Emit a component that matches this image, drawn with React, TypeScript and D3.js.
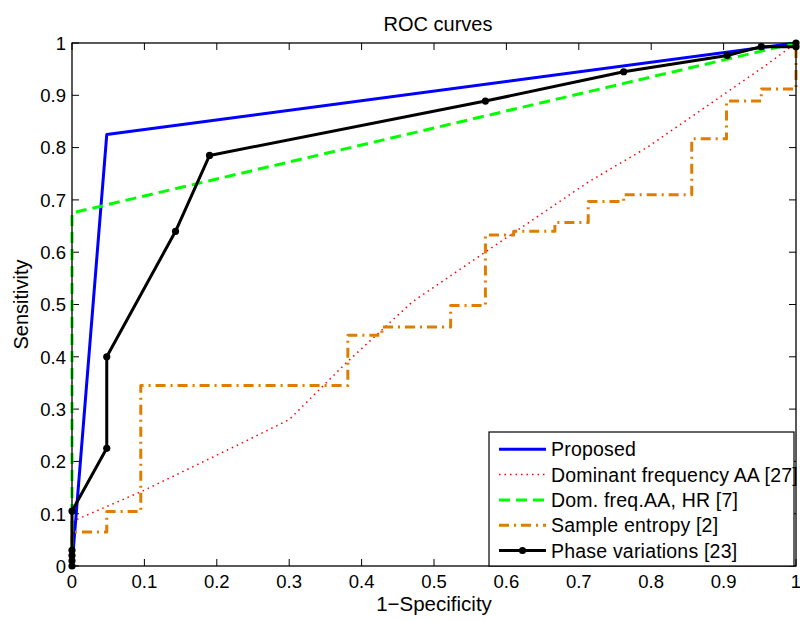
import React from 'react';
import * as d3 from 'd3';

// ROC curve data
const proposedX = [0, 0.048, 1];
const proposedY = [0, 0.825, 1];

const domFreqX = [0, 0.1, 0.23, 0.3, 0.38, 0.47, 0.56, 0.61, 0.714, 0.794, 0.96, 1];
const domFreqY = [0.085, 0.145, 0.232, 0.28, 0.39, 0.505, 0.59, 0.637, 0.735, 0.8, 0.959, 1];

const domFreqHrX = [0, 0, 1];
const domFreqHrY = [0, 0.675, 1];

const entropyX = [0, 0, 0.048, 0.095, 0.381, 0.428, 0.523, 0.571, 0.61, 0.667, 0.713, 0.762, 0.856, 0.904, 0.952, 1];
const entropyY = [0, 0.065, 0.104, 0.345, 0.441, 0.457, 0.498, 0.633, 0.64, 0.657, 0.697, 0.71, 0.817, 0.889, 0.912, 1];

const phaseX = [0, 0, 0, 0, 0, 0.048, 0.048, 0.143, 0.19, 0.571, 0.762, 0.905, 0.952, 1, 1];
const phaseY = [0, 0.01, 0.02, 0.03, 0.105, 0.225, 0.4, 0.64, 0.785, 0.889, 0.945, 0.976, 0.993, 0.993, 1];

const ticks = [0, 0.1, 0.2, 0.3, 0.4, 0.5, 0.6, 0.7, 0.8, 0.9, 1];
const tickLabels = ['0', '0.1', '0.2', '0.3', '0.4', '0.5', '0.6', '0.7', '0.8', '0.9', '1'];

const legendNames = [
  'Proposed',
  'Dominant frequency AA [27]',
  'Dom. freq.AA, HR [7]',
  'Sample entropy [2]',
  'Phase variations [23]',
];

const W = 800;
const H = 621;
const left = 72;
const right = 796;
const top = 43;
const bottom = 566;

const font = 'Liberation Sans, Arial, Helvetica, sans-serif';

export default function App() {
  const x = d3.scaleLinear().domain([0, 1]).range([left, right]);
  const y = d3.scaleLinear().domain([0, 1]).range([bottom, top]);

  const toPts = (xs: number[], ys: number[]) => xs.map((v, i) => [v, ys[i]] as [number, number]);
  const line = d3.line<[number, number]>().x((d) => x(d[0])).y((d) => y(d[1]));
  const stepLine = d3
    .line<[number, number]>()
    .x((d) => x(d[0]))
    .y((d) => y(d[1]))
    .curve(d3.curveStepAfter);

  const series = [
    { d: line(toPts(proposedX, proposedY)), color: '#0000ff', w: 3, dash: undefined },
    { d: line(toPts(domFreqX, domFreqY)), color: '#ff0000', w: 1.5, dash: '1.5,4' },
    { d: line(toPts(domFreqHrX, domFreqHrY)), color: '#00ff00', w: 3, dash: '11,6' },
    { d: stepLine(toPts(entropyX, entropyY)), color: '#de7d00', w: 3, dash: '10,5,2,5' },
    { d: line(toPts(phaseX, phaseY)), color: '#000000', w: 3, dash: undefined },
  ];

  const legX = 489;
  const legY = 432;
  const legW = 305;
  const legH = 134;
  const legRow = 25.3;

  return (
    <svg
      width={W}
      height={H}
      style={{ position: 'absolute', left: 0, top: 0, background: '#fff' }}
      fontFamily={font}
    >
      <rect x={0} y={0} width={W} height={H} fill="#fff" />
      <text x={(left + right) / 2 + 4} y={31} textAnchor="middle" fontSize={20}>
        ROC curves
      </text>

      <defs>
        <clipPath id="plotclip">
          <rect x={left - 4} y={top - 4} width={right - left + 8} height={bottom - top + 8} />
        </clipPath>
      </defs>

      {/* ticks */}
      {ticks.map((t, i) => (
        <g key={'t' + i} stroke="#000" strokeWidth={1}>
          <line x1={x(t)} x2={x(t)} y1={bottom} y2={bottom - 7} />
          <line x1={x(t)} x2={x(t)} y1={top} y2={top + 7} />
          <line x1={left} x2={left + 7} y1={y(t)} y2={y(t)} />
          <line x1={right} x2={right - 7} y1={y(t)} y2={y(t)} />
        </g>
      ))}
      {ticks.map((t, i) => (
        <text key={'xl' + i} x={x(t)} y={588} textAnchor="middle" fontSize={18.5}>
          {tickLabels[i]}
        </text>
      ))}
      {ticks.map((t, i) => (
        <text key={'yl' + i} x={66} y={y(t) + 6.8} textAnchor="end" fontSize={18.5}>
          {tickLabels[i]}
        </text>
      ))}

      <g clipPath="url(#plotclip)">
        {series.map((s, i) => (
          <path
            key={'s' + i}
            d={s.d || ''}
            fill="none"
            stroke={s.color}
            strokeWidth={s.w}
            strokeDasharray={s.dash}
            strokeLinejoin="round"
          />
        ))}
        {phaseX.map((v, i) => (
          <circle key={'m' + i} cx={x(v)} cy={y(phaseY[i])} r={3.6} fill="#000" />
        ))}
      </g>

      <rect x={left} y={top} width={right - left} height={bottom - top} fill="none" stroke="#000" strokeWidth={1.3} />

      <text x={(left + right) / 2} y={611} textAnchor="middle" fontSize={20.5}>
        1−Specificity
      </text>
      <text
        transform={`translate(28,${(top + bottom) / 2}) rotate(-90)`}
        textAnchor="middle"
        fontSize={20}
      >
        Sensitivity
      </text>

      {/* legend */}
      <rect x={legX} y={legY} width={legW} height={legH} fill="#fff" stroke="#000" strokeWidth={1.2} />
      {legendNames.map((name, i) => {
        const ly = legY + 17.3 + i * legRow;
        const s = series[i];
        return (
          <g key={'lg' + i}>
            <line
              x1={legX + 10}
              x2={legX + 57}
              y1={ly}
              y2={ly}
              stroke={s.color}
              strokeWidth={s.w}
              strokeDasharray={s.dash}
            />
            {i === 4 && <circle cx={legX + 33.5} cy={ly} r={3.6} fill="#000" />}
            <text x={legX + 62} y={ly + 7} fontSize={19.5} letterSpacing={0.2}>
              {name}
            </text>
          </g>
        );
      })}
    </svg>
  );
}
